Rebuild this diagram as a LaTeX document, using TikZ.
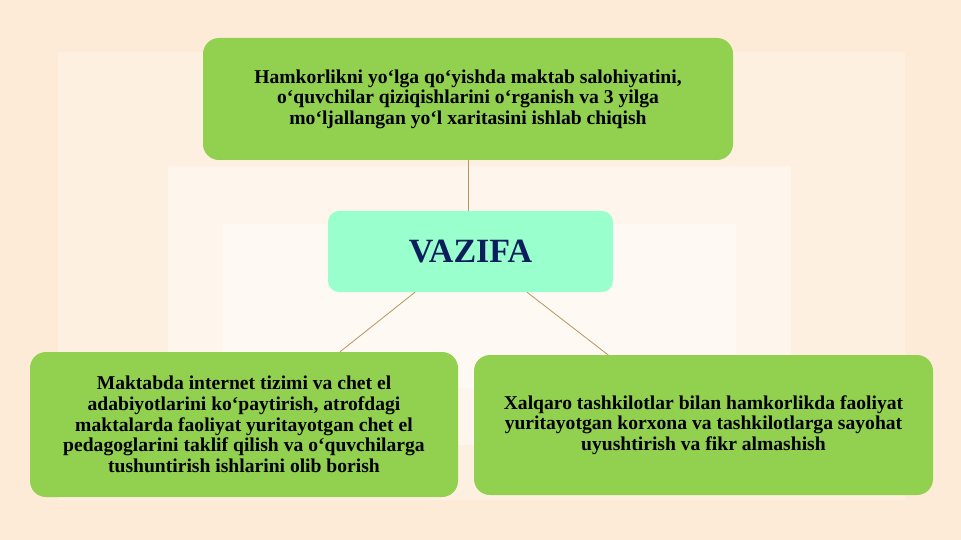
\documentclass[tikz,border=0pt]{standalone}
\usepackage{fontspec}
\setmainfont{Liberation Serif}
\definecolor{bgpeach}{HTML}{FDEBD8}
\definecolor{bgone}{HTML}{FDF0E1}
\definecolor{bgtwo}{HTML}{FEF5EC}
\definecolor{bgthree}{HTML}{FFF9F4}
\definecolor{boxgreen}{HTML}{92D050}
\definecolor{boxmint}{HTML}{99FFCC}
\definecolor{titlenavy}{HTML}{0C1F5C}
\definecolor{linkbrown}{HTML}{B8955A}

\begin{document}
\begin{tikzpicture}[x=1pt,y=-1pt,line cap=round,line join=round,
    greenbox/.style={fill=boxgreen,rounded corners=16pt,align=center,inner sep=0pt,
      font=\bfseries\fontsize{19.6}{20.6}\selectfont},
    mintbox/.style={fill=boxmint,rounded corners=11pt,inner sep=0pt,text=titlenavy,
      font=\bfseries\fontsize{34}{38}\selectfont},
    link/.style={draw=linkbrown,line width=0.8pt}]
        \useasboundingbox (0,0) rectangle (961,540);
        % background, lighter towards the middle
        \fill[bgpeach] (0,0) rectangle (961,540);
        \fill[bgone] (58,52) rectangle (905,500);
        \fill[bgtwo] (168,166) rectangle (791,445);
        \fill[bgthree] (222,224) rectangle (736,388);
        % boxes
        \node[greenbox,minimum width=530pt,minimum height=122pt] (plan) at (468,99)
          {Hamkorlikni yo‘lga qo‘yishda maktab salohiyatini,\\
           o‘quvchilar qiziqishlarini o‘rganish va 3 yilga\\
           mo‘ljallangan yo‘l xaritasini ishlab chiqish};
        \node[mintbox,minimum width=285pt,minimum height=81pt] (vazifa) at (470.5,251.5) {VAZIFA};
        \node[greenbox,minimum width=428pt,minimum height=145pt] (internet) at (244,424.5)
          {Maktabda internet tizimi va chet el\\
           adabiyotlarini ko‘paytirish, atrofdagi\\
           maktalarda faoliyat yuritayotgan chet el\\
           pedagoglarini taklif qilish va o‘quvchilarga\\
           tushuntirish ishlarini olib borish};
        \node[greenbox,minimum width=459pt,minimum height=140pt] (xalqaro) at (703.5,425)
          {Xalqaro tashkilotlar bilan hamkorlikda faoliyat\\
           yuritayotgan korxona va tashkilotlarga sayohat\\
           uyushtirish va fikr almashish};
        % connectors
        \draw[link] (plan.south) -- (plan.south |- vazifa.north);
        \draw[link] ([xshift=-55.5pt]vazifa.south) -- ([xshift=96pt]internet.north);
        \draw[link] ([xshift=56.5pt]vazifa.south) -- ([xshift=-95.5pt]xalqaro.north);
\end{tikzpicture}
\end{document}
